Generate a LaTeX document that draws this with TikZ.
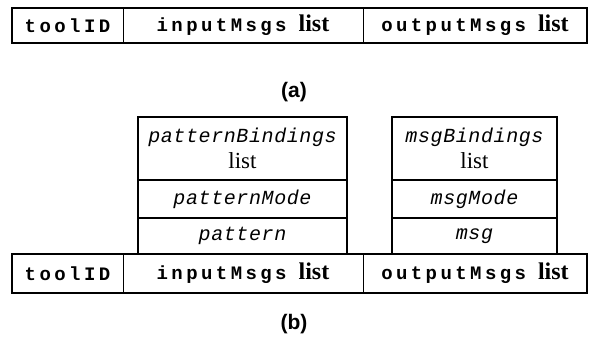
\documentclass[tikz,border=0pt]{standalone}
\usepackage{fontspec}
\setmainfont{Liberation Serif}
\newfontfamily\monohead[LetterSpace=18]{Liberation Mono}
\newfontfamily\monoit[LetterSpace=3]{Liberation Mono}
\newfontfamily\labfont{Liberation Sans}
\tikzset{
  cell/.style={draw, line width=0.8pt, inner sep=0pt, minimum height=35pt},
  stackcell/.style={draw, line width=1.2pt, inner sep=0pt, minimum width=209pt},
  rstackcell/.style={draw, line width=1.2pt, inner sep=0pt, minimum width=165pt},
  head/.style={font=\monohead\bfseries\fontsize{19}{21}\selectfont},
  itx/.style={font=\monoit\itshape\fontsize{20}{22}\selectfont},
  caption/.style={font=\labfont\bfseries\fontsize{21}{24}\selectfont},
  outer/.style={line width=2pt}
}
\newcommand{\lst}{\hspace*{12pt}{\rmfamily\bfseries\fontsize{24}{26}\selectfont list}}
\newcommand{\slst}{{\rmfamily\upshape\fontsize{23}{24}\selectfont list}}
\begin{document}
\begin{tikzpicture}[x=1pt,y=-1pt]
\useasboundingbox (0,0) rectangle (589,346);
% ---- (a)
\node[cell, minimum width=111pt, head] (a1) at (67.5,25.5) {toolID};
\node[cell, minimum width=240pt, head] (a2) at (243,25.5) {inputMsgs\lst};
\node[cell, minimum width=224pt, head] (a3) at (475,25.5) {outputMsgs\lst};
\draw[outer] (a1.north west) rectangle (a3.south east);
\node[caption] (capa) at (294,92) {(a)};
% ---- (b) stacks
\node[stackcell, minimum height=63pt, align=center, itx] (p1) at (242.5,148.5)
  {patternBindings\\[4pt]\slst};
\node[stackcell, minimum height=38pt, itx] (p2) at (242.5,199) {patternMode};
\node[stackcell, minimum height=36pt, itx] (p3) at (242.5,236) {pattern};
\node[rstackcell, minimum height=63pt, align=center, itx] (m1) at (474.5,148.5)
  {msgBindings\\[4pt]\slst};
\node[rstackcell, minimum height=38pt, itx] (m2) at (474.5,199) {msgMode};
\node[rstackcell, minimum height=36pt, itx] (m3) at (474.5,236) {msg};
% ---- (b) row
\node[cell, minimum height=39pt, minimum width=111pt, head] (b1) at (67.5,273.5) {toolID};
\node[cell, minimum height=39pt, minimum width=240pt, head] (b2) at (243,273.5) {inputMsgs\lst};
\node[cell, minimum height=39pt, minimum width=224pt, head] (b3) at (475,273.5) {outputMsgs\lst};
\draw[outer] (b1.north west) rectangle (b3.south east);
\node[caption] (capb) at (294,324) {(b)};
\end{tikzpicture}
\end{document}
